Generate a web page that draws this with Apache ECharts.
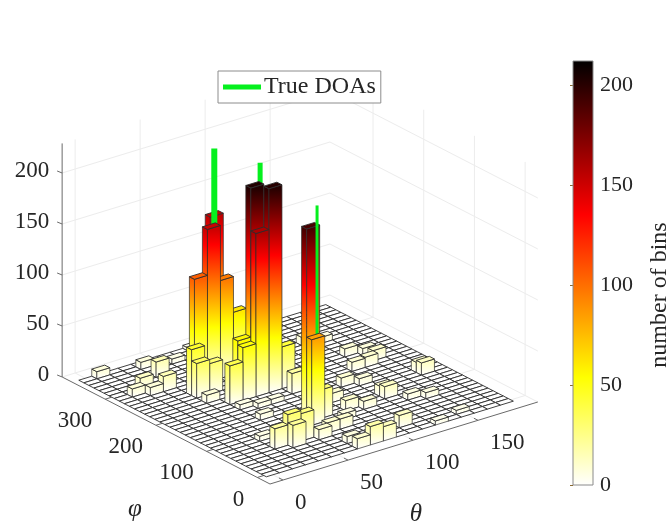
<!DOCTYPE html>
<html>
<head>
<meta charset="utf-8">
<style>html,body{margin:0;padding:0;background:#fff}#c{width:670px;height:525px}</style>
<script src="https://cdn.jsdelivr.net/npm/echarts@6/dist/echarts.min.js"></script>
</head>
<body>
<div id="c"></div>
<script>
// ---------- data ----------
const thetaBins = [0,10,20,30,40,50,60,70,80,90,100,110,120,130,140,150,160,170,180];
const phiBins = [0,10,20,30,40,50,60,70,80,90,100,110,120,130,140,150,160,170,180,190,200,210,220,230,240,250,260,270,280,290,300,310,320,330,340,350,360];
// non-empty histogram cells (theta, phi, number of bins); all other cells are 0
const cellTheta = [70,60,50,70,40,40,50,80, 70,70,80, 60,60,50,90,90,70,70,80, 10,40,40,20,30,10,20,80,40,60, 40,40,50,30,60,70,80,70,70,80,90,110, 130,150,140,150,170,170,130,130,120,130,150,140,150,160,160, 100,100,110,90,50,30,50,60,70,140,150];
const cellPhi =   [290,270,270,270,250,240,240,270, 100,90,100, 210,200,200,200,180,210,200,200, 360,350,320,300,280,290,280,360,220,340, 50,60,60,60,50,60,60,20,0,0,0,20, 0,10,80,70,130,140,100,110,160,150,190,190,230,200,220, 130,100,90,80,140,90,180,170,170,290,280];
const cellCount = [153,150,105,96,45,34,30,61, 190,84,28, 56,52,38,41,20,202,160,200, 7,7,15,12,15,8,8,3,8,5, 22,30,27,20,10,10,10,7,10,18,14,12, 4,4,6,6,12,10,12,10,9,7,10,9,8,10,7, 9,10,8,6,6,5,5,5,5,8,6];
// true directions of arrival
const doaTheta = [70,76,73];
const doaPhi = [290,215,95];
const doaTop = [217,220,210];
const doaWidth = [6,5,3];
const doaName = 'True DOAs';
// axes
const thetaTicks = [0,50,100,150];
const phiTicks = [0,100,200,300];
const zTicks = [0,50,100,150,200];
const colorbarTicks = [0,50,100,150,200];
const colorbarRange = [0,212];
const colormap = [[0,'#ffffff'],[54,'#ffff00'],[135,'#ff0000'],[212,'#000000']];
const thetaLim = [-10,196], phiLim = [-25,385], zLim = [0,229];
const binHalf = 5;

// ---------- 3-D view ----------
const view = {x0:270,y0:484,tx:1.3,ty:-0.398,px:-0.507,py:-0.261,zy:-1.02};
function project(t,p,z){
  const a=t-thetaLim[0], b=p-phiLim[0];
  return [view.x0+a*view.tx+b*view.px, view.y0+a*view.ty+b*view.py+z*view.zy];
}
function hex(c){return [1,3,5].map(i=>parseInt(c.substr(i,2),16));}
function colorAt(v){
  for(let i=1;i<colormap.length;i++){
    if(v<=colormap[i][0]){
      const a=colormap[i-1],b=colormap[i],f=(v-a[0])/(b[0]-a[0]);
      const A=hex(a[1]),B=hex(b[1]);
      return 'rgb('+A.map((q,k)=>Math.round(q+(B[k]-q)*f)).join(',')+')';
    }
  }
  return colormap[colormap.length-1][1];
}
function stopsTo(v){
  const s=[{offset:0,color:colorAt(0)}];
  colormap.forEach(c=>{if(c[0]>0&&c[0]<v)s.push({offset:c[0]/v,color:c[1]});});
  s.push({offset:1,color:colorAt(v)});
  return s;
}
const counts={};
cellTheta.forEach((t,i)=>{counts[t+'_'+cellPhi[i]]=cellCount[i];});
const items=[];
thetaBins.forEach(t=>phiBins.forEach(p=>{items.push([t,p,counts[t+'_'+p]||0,-1,t+p]);}));
doaTheta.forEach((t,i)=>{items.push([t,doaPhi[i],doaTop[i],i,t+doaPhi[i]-0.5]);});
items.sort((a,b)=>b[4]-a[4]);

const edge='#2c2c2c';
function poly(pts,fill,w){
  return {type:'polygon',shape:{points:pts},style:{fill:fill,stroke:edge,lineWidth:w,lineJoin:'round'},silent:true};
}
function renderMark(params,api){
  const t=api.value(0),p=api.value(1),v=api.value(2),k=api.value(3);
  if(k>=0){
    const a=project(t,p,0),b=project(t,p,v);
    return {type:'line',shape:{x1:a[0],y1:a[1],x2:b[0],y2:b[1]},style:{stroke:'#05f01e',lineWidth:doaWidth[k]},silent:true};
  }
  const h=binHalf;
  const A=(z)=>project(t-h,p-h,z),B=(z)=>project(t+h,p-h,z),C=(z)=>project(t+h,p+h,z),D=(z)=>project(t-h,p+h,z);
  const children=[];
  if(v>0){
    const bot=A(0),top=A(v);
    const fill=new echarts.graphic.LinearGradient(bot[0],bot[1],top[0],top[1],stopsTo(v),true);
    children.push(poly([D(0),A(0),A(v),D(v)],fill,0.7));
    children.push(poly([A(0),B(0),B(v),A(v)],fill,0.7));
  }
  children.push(poly([A(v),B(v),C(v),D(v)],colorAt(v),0.9));
  return {type:'group',children:children};
}
const gridC='#ececec', axisC='#6a6a6a';
function seg(a,b,c,w){return {type:'line',shape:{x1:a[0],y1:a[1],x2:b[0],y2:b[1]},style:{stroke:c,lineWidth:w},silent:true};}
function label(s,x,y,align,size,italic){
  return {type:'text',x:x,y:y,style:{text:s,fill:'#262626',font:(italic?'italic ':'')+size+'px "Liberation Serif"',align:align,verticalAlign:'middle'},silent:true};
}
function renderAxes(){
  const c=[];
  const T0=thetaLim[0],T1=thetaLim[1],P0=phiLim[0],P1=phiLim[1],Z=zLim[1];
  zTicks.forEach(z=>{
    c.push(seg(project(T0,P1,z),project(T1,P1,z),gridC,1));
    c.push(seg(project(T1,P1,z),project(T1,P0,z),gridC,1));
  });
  thetaTicks.forEach(t=>{
    c.push(seg(project(t,P0,0),project(t,P1,0),gridC,1));
    c.push(seg(project(t,P1,0),project(t,P1,Z),gridC,1));
  });
  phiTicks.forEach(p=>{
    c.push(seg(project(T0,p,0),project(T1,p,0),gridC,1));
    c.push(seg(project(T1,p,0),project(T1,p,Z),gridC,1));
  });
  c.push(seg(project(T0,P1,0),project(T0,P1,Z),axisC,1));
  c.push(seg(project(T0,P0,0),project(T0,P1,0),axisC,1));
  c.push(seg(project(T0,P0,0),project(T1,P0,0),axisC,1));
  zTicks.forEach(z=>{
    const a=project(T0,P1,z);
    c.push(seg(a,[a[0]-5,a[1]-2],axisC,1));
    c.push(label(String(z),a[0]-13,a[1]-2,'right',23));
  });
  phiTicks.forEach(p=>{
    const a=project(T0,p,0);
    c.push(seg(a,project(T0+5,p,0),axisC,1));
    c.push(label(String(p),a[0]-13,a[1]+22,'right',23));
  });
  thetaTicks.forEach(t=>{
    const a=project(t,P0,0);
    c.push(seg(a,project(t,P0+8,0),axisC,1));
    c.push(label(String(t),a[0]+12,a[1]+23,'left',23));
  });
  c.push(label('\u03c6',135,509,'center',25,true));
  c.push(label('\u03b8',416,514,'center',25,true));
  return {type:'group',children:c};
}
function renderBar(params,api){
  const a=api.coord([0,api.value(0)]),b=api.coord([1,api.value(1)]);
  const stops=colormap.map(c=>({offset:c[0]/colorbarRange[1],color:c[1]}));
  return {type:'rect',shape:{x:a[0],y:b[1],width:b[0]-a[0],height:a[1]-b[1]},
    style:{fill:new echarts.graphic.LinearGradient(0,1,0,0,stops),stroke:'#8a8a8a',lineWidth:1},silent:true};
}
const chart=echarts.init(document.getElementById('c'),null,{renderer:'canvas'});
chart.setOption({
  animation:false,
  backgroundColor:'#fff',
  grid:{left:573,top:61,width:20,height:424},
  xAxis:{type:'value',min:0,max:1,show:false},
  yAxis:{type:'value',position:'right',min:colorbarRange[0],max:colorbarRange[1],interval:50,
    axisLine:{show:false},splitLine:{show:false},
    axisTick:{show:true,inside:true,length:3,lineStyle:{color:'#8a6a30'}},
    axisLabel:{margin:7,color:'#262626',fontFamily:'Liberation Serif',fontSize:22,showMaxLabel:false,
      formatter:v=>colorbarTicks.includes(v)?String(v):''}},
  legend:{data:[{name:doaName,icon:'rect',itemStyle:{color:'#05f01e'}}],left:218,top:71,
    itemWidth:38,itemHeight:5,itemGap:0,padding:[4,5,4,5],backgroundColor:'#fff',borderColor:'#8c8c8c',borderWidth:1,
    selectedMode:false,z:10,
    textStyle:{fontFamily:'Liberation Serif',fontSize:24,color:'#262626',padding:[0,0,0,-2]}},
  graphic:[{type:'text',x:660,y:295,rotation:Math.PI/2,silent:true,
    style:{text:'number of bins',fill:'#262626',font:'24px "Liberation Serif"',align:'center',verticalAlign:'middle'}}],
  series:[
    {type:'custom',name:'axes',coordinateSystem:'none',silent:true,z:1,data:[[0]],renderItem:renderAxes},
    {type:'custom',name:'histogram',coordinateSystem:'none',silent:true,z:2,data:items,renderItem:renderMark},
    {type:'custom',name:doaName,coordinateSystem:'none',silent:true,z:2,itemStyle:{color:'#05f01e'},data:[],renderItem:()=>null},
    {type:'custom',name:'colorbar',coordinateSystem:'cartesian2d',silent:true,z:2,data:[colorbarRange],
      encode:{y:[0,1]},renderItem:renderBar}
  ]
});
</script>
</body>
</html>
